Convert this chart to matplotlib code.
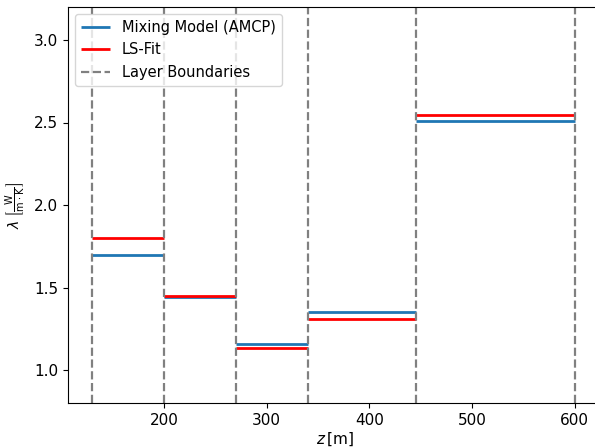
import numpy as np
import matplotlib.pyplot as plt

# layer boundaries in depth z [m]
boundaries = [130, 200, 270, 340, 445, 600]
# thermal conductivity per layer
lambda_amcp = [1.70, 1.44, 1.16, 1.35, 2.51]
lambda_fit = [1.80, 1.45, 1.135, 1.31, 2.545]

fig = plt.figure(figsize=(5.95, 4.47), dpi=100)
ax = fig.add_axes([68/595, 44/447, 534/595, 396/447])

z_top = boundaries[:-1]
z_bot = boundaries[1:]

ax.hlines(lambda_amcp, z_top, z_bot, colors='tab:blue', linewidth=2, label='Mixing Model (AMCP)')
ax.hlines(lambda_fit, z_top, z_bot, colors='red', linewidth=2, label='LS-Fit')
for i, b in enumerate(boundaries):
    ax.axvline(b, color='gray', linestyle='--', linewidth=1.6,
               label='Layer Boundaries' if i == 0 else None)

ax.set_ylim(0.8, 3.2)
ax.set_xlim(106.5, 626.5)
ax.set_xticks([200, 300, 400, 500, 600])
ax.set_yticks([1.0, 1.5, 2.0, 2.5, 3.0])
ax.tick_params(labelsize=11)
ax.set_xlabel(r'$z\,[\mathrm{m}]$', fontsize=11, labelpad=2)
ax.set_ylabel(r'$\lambda\;\left[\frac{\mathrm{W}}{\mathrm{m\cdot K}}\right]$', fontsize=10)
ax.legend(loc='upper left', fontsize=10.5)

plt.savefig('out.png')
